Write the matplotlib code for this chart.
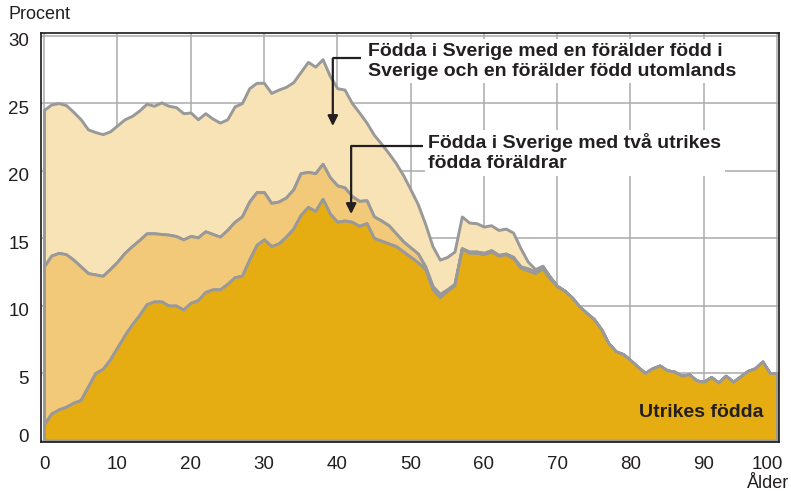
import numpy as np
import matplotlib
matplotlib.use("Agg")
import matplotlib.pyplot as plt
from matplotlib.transforms import ScaledTranslation

# ---- data (cumulative shares, percent) ----
alder = list(range(0, 101))

utrikes_fodda = [
    1.2, 2.0, 2.3, 2.5, 2.8, 3.0, 4.0, 5.0, 5.3, 6.0,
    6.9, 7.8, 8.6, 9.3, 10.1, 10.3, 10.3, 10.0, 10.0, 9.7,
    10.2, 10.4, 11.0, 11.2, 11.2, 11.6, 12.1, 12.2, 13.4, 14.5,
    14.9, 14.4, 14.6, 15.1, 15.7, 16.7, 17.3, 17.0, 17.9, 16.8,
    16.2, 16.3, 16.2, 15.9, 16.1, 15.0, 14.8, 14.6, 14.4, 14.0,
    13.6, 13.2, 12.7, 11.2, 10.6, 11.1, 11.5, 14.2, 13.9, 13.9,
    13.8, 14.0, 13.7, 13.8, 13.5, 12.8, 12.6, 12.4, 12.75, 12.0,
    11.4, 11.1, 10.6, 9.95, 9.45, 9.0, 8.25, 7.2, 6.6, 6.4,
    5.95, 5.45, 5.0, 5.35, 5.55, 5.2, 5.1, 4.8, 4.9, 4.45,
    4.35, 4.7, 4.3, 4.8, 4.35, 4.75, 5.15, 5.35, 5.85, 5.0,
    5.0,
]

# utrikes födda + födda i Sverige med två utrikes födda föräldrar
med_tva_utrikes = [
    12.9, 13.7, 13.9, 13.8, 13.4, 12.9, 12.4, 12.3, 12.2, 12.7,
    13.25, 13.9, 14.4, 14.85, 15.35, 15.35, 15.3, 15.25, 15.15, 14.9,
    15.15, 15.05, 15.5, 15.3, 15.1, 15.6, 16.2, 16.6, 17.7, 18.4,
    18.4, 17.6, 17.7, 18.0, 18.6, 19.8, 19.9, 19.8, 20.5, 19.5,
    18.9, 18.75, 18.1, 17.75, 17.8, 16.6, 16.3, 15.95, 15.35, 14.75,
    14.3, 13.85, 12.9, 11.45, 10.85, 11.2, 11.6, 14.25, 14.0, 14.0,
    13.9, 14.1, 13.75, 13.85, 13.6, 12.9, 12.75, 12.5, 12.9, 12.1,
    11.45, 11.1, 10.6, 9.95, 9.45, 9.0, 8.25, 7.2, 6.6, 6.4,
    5.95, 5.45, 5.0, 5.35, 5.55, 5.2, 5.1, 4.8, 4.9, 4.45,
    4.35, 4.7, 4.3, 4.8, 4.35, 4.75, 5.15, 5.35, 5.85, 5.0,
    5.0,
]

# ... + födda i Sverige med en förälder född i Sverige och en utomlands
med_en_utrikes = [
    24.5, 24.9, 25.0, 24.85, 24.35, 23.8, 23.05, 22.85, 22.7, 22.9,
    23.35, 23.8, 24.05, 24.45, 24.95, 24.8, 25.05, 24.8, 24.7, 24.25,
    24.3, 23.8, 24.25, 23.85, 23.55, 23.8, 24.75, 25.0, 26.1, 26.5,
    26.5, 25.75, 26.0, 26.2, 26.55, 27.3, 28.05, 27.7, 28.25, 27.0,
    26.1, 26.0, 25.0, 24.3, 23.55, 22.65, 22.0, 21.3, 20.55, 19.65,
    18.6, 17.5, 16.05, 14.4, 13.4, 13.6, 14.0, 16.6, 16.15, 16.1,
    15.85, 15.95, 15.6, 15.7, 15.4, 14.25, 13.25, 12.7, 12.95, 12.15,
    11.45, 11.1, 10.6, 9.95, 9.45, 9.0, 8.25, 7.2, 6.6, 6.4,
    5.95, 5.45, 5.0, 5.35, 5.55, 5.2, 5.1, 4.8, 4.9, 4.45,
    4.35, 4.7, 4.3, 4.8, 4.35, 4.75, 5.15, 5.35, 5.85, 5.0,
    5.0,
]

x_ticks = [0, 10, 20, 30, 40, 50, 60, 70, 80, 90, 100]
y_ticks = [0, 5, 10, 15, 20, 25, 30]

label_en = "Födda i Sverige med en förälder född i\nSverige och en förälder född utomlands"
label_tva = "Födda i Sverige med två utrikes\nfödda föräldrar"
label_utr = "Utrikes födda"

# ---- style ----
c_utr = "#E6AD12"
c_tva = "#F2C978"
c_en = "#F7E3B5"
c_edge = "#999999"
c_text = "#231F20"
font = ["Liberation Sans", "DejaVu Sans"]

fig = plt.figure(figsize=(7.91, 4.91), dpi=100)
ax = fig.add_axes([41 / 791, 49 / 491, 738 / 791, 409 / 491])
ax.set_xlim(-0.41, 100.27)
ax.set_ylim(-0.11, 30.19)

x = np.array(alder)
b = np.array(utrikes_fodda)
m = np.array(med_tva_utrikes)
t = np.array(med_en_utrikes)

ax.fill_between(x, m, t, facecolor=c_en, edgecolor=c_edge, linewidth=2.1, zorder=2)
ax.fill_between(x, b, m, facecolor=c_tva, edgecolor=c_edge, linewidth=2.1, zorder=3)
ax.fill_between(x, 0, b, facecolor=c_utr, edgecolor=c_edge, linewidth=2.1, zorder=4)

# grid
ax.set_xticks(x_ticks)
ax.set_yticks(y_ticks)
ax.grid(True, color="#ABABAB", linewidth=1.1, zorder=0)
ax.set_axisbelow(True)
ax.tick_params(axis="both", length=0)
ax.tick_params(axis="x", pad=10, labelsize=13.5, labelcolor=c_text)
ax.set_yticklabels([])
xlabels = ax.get_xticklabels()
for lab in xlabels:
    lab.set_family(font)
last = xlabels[-1]
last.set_transform(last.get_transform() + ScaledTranslation(-0.10, 0, fig.dpi_scale_trans))

for yv in y_ticks:
    off = 0.2 if yv == 0 else -0.45
    ax.text(-0.016, yv + off, str(yv), transform=ax.get_yaxis_transform(),
            ha="right", va="center", fontsize=13.5, color=c_text, family=font)

for s in ax.spines.values():
    s.set_color("#1A1A1A")
    s.set_linewidth(1.2)
    s.set_zorder(6)

# texts
fig.text(8 / 791, 1 - 19 / 491, "Procent", fontsize=13, color=c_text,
         family=font, ha="left", va="baseline")
fig.text(789 / 791, 1 - 488 / 491, "Ålder", fontsize=13, color=c_text,
         family=font, ha="right", va="baseline")

bbox = dict(facecolor="white", edgecolor="none", pad=2.5)
ax.text(44.2, 29.45, label_en, fontsize=14, fontweight="bold", color=c_text,
        family=font, ha="left", va="top", bbox=bbox, zorder=7, linespacing=1.2)
ax.text(52.4, 22.75, label_tva, fontsize=14, fontweight="bold", color=c_text,
        family=font, ha="left", va="top", bbox=bbox, zorder=7, linespacing=1.2)
ax.text(98.1, 1.76, label_utr, fontsize=14, fontweight="bold", color=c_text,
        family=font, ha="right", va="baseline", zorder=7)

# arrows
def elbow_arrow(x0, y0, xc, yc, ytip):
    ax.plot([x0, xc, xc], [y0, yc, yc], color=c_text, lw=1.6, zorder=8,
            solid_capstyle="butt")
    ax.annotate("", xy=(xc, ytip), xytext=(xc, yc),
                arrowprops=dict(arrowstyle="-|>,head_length=0.6,head_width=0.3",
                                color=c_text, lw=1.6, shrinkA=0, shrinkB=0),
                zorder=8)

elbow_arrow(43.3, 28.31, 39.4, 28.31, 23.3)
elbow_arrow(51.7, 21.81, 41.9, 21.81, 16.78)

fig.savefig("out.png", dpi=100)
